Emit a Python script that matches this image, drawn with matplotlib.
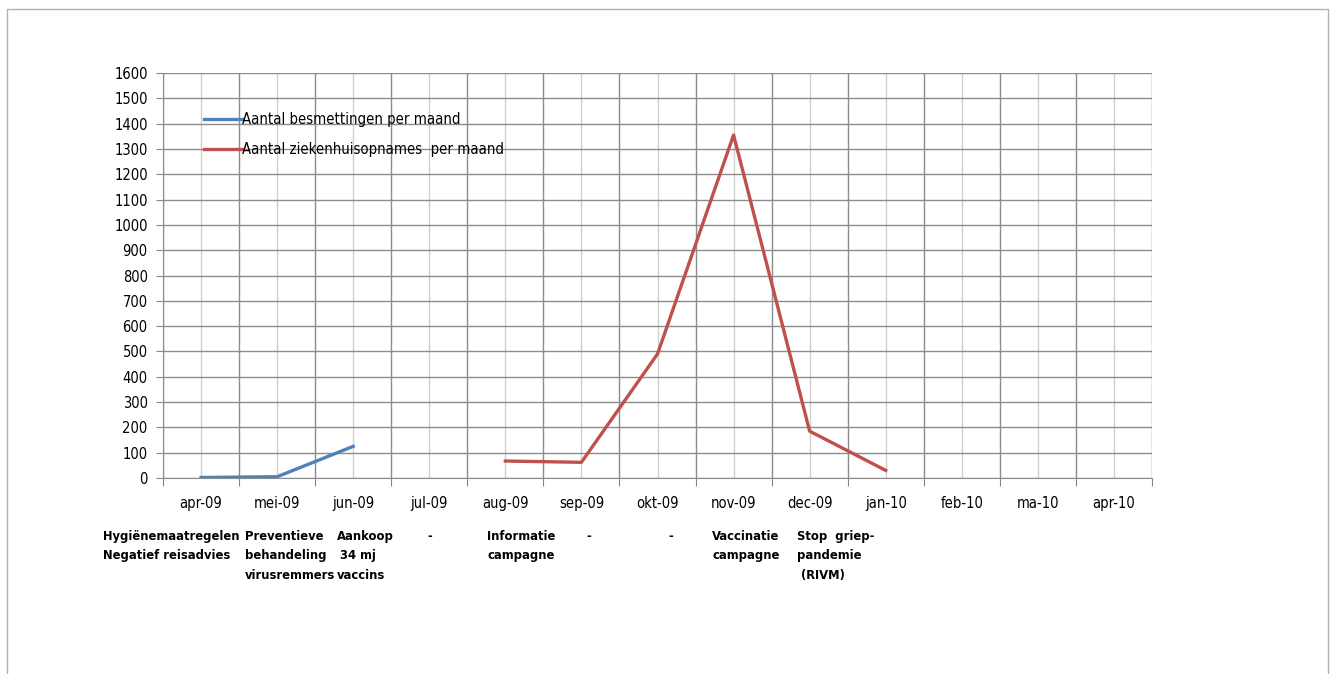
import numpy as np
import matplotlib.pyplot as plt
from matplotlib.patches import Rectangle

plt.rcParams['font.family'] = ['DejaVu Sans']
plt.rcParams['font.stretch'] = 'condensed'

months = ['apr-09', 'mei-09', 'jun-09', 'jul-09', 'aug-09', 'sep-09', 'okt-09',
          'nov-09', 'dec-09', 'jan-10', 'feb-10', 'ma-10', 'apr-10']
besmettingen = [2, 5, 125, np.nan, np.nan, np.nan, np.nan,
                np.nan, np.nan, np.nan, np.nan, np.nan, np.nan]
opnames = [np.nan, np.nan, np.nan, np.nan, 67, 62, 490,
           1355, 185, 30, np.nan, np.nan, np.nan]
maatregelen = ['Hygiënemaatregelen\nNegatief reisadvies',
               'Preventieve\nbehandeling\nvirusremmers',
               'Aankoop\n 34 mj\nvaccins',
               '-',
               'Informatie\ncampagne',
               '-',
               '-',
               'Vaccinatie\ncampagne',
               'Stop  griep-\npandemie\n (RIVM)']
maatregel_x = [-1.29, 0.58, 1.78, 2.98, 3.76, 5.06, 6.14, 6.72, 7.83]

fig = plt.figure(figsize=(13.33, 6.74), dpi=100)
fig.patches.append(Rectangle((7 / 1333, -0.05), 1321 / 1333, 1.05 - 9 / 674,
                             transform=fig.transFigure, fill=False,
                             edgecolor='#b0b0b0', linewidth=1))
ax = fig.add_axes([163 / 1333, 196 / 674, 989 / 1333, 405 / 674])

x = np.arange(len(months))
ax.plot(x, besmettingen, color='#4f81bd', linewidth=2.4,
        label='Aantal besmettingen per maand')
ax.plot(x, opnames, color='#c0504d', linewidth=2.4,
        label='Aantal ziekenhuisopnames  per maand')

ax.set_xlim(-0.5, len(months) - 0.5)
ax.set_ylim(0, 1600)
ax.set_yticks(range(0, 1601, 100))
ax.set_xticks(np.arange(-0.5, len(months), 1.0))
ax.set_xticklabels([])
ax.set_xticks(x, minor=True)
ax.set_xticklabels(months, minor=True, fontsize=10.5)
ax.tick_params(axis='x', which='minor', length=0, pad=13)
ax.tick_params(axis='x', which='major', length=6, color='#888888', direction='out')
ax.tick_params(axis='y', length=5, color='#888888', labelsize=10.5, pad=6)

ax.grid(axis='y', color='#8c8c8c', linewidth=1)
ax.grid(axis='x', which='major', color='#8c8c8c', linewidth=1)
ax.grid(axis='x', which='minor', color='#d0d0d0', linewidth=1)
ax.set_axisbelow(True)
for side in ['top', 'right']:
    ax.spines[side].set_visible(False)
for side in ['left', 'bottom']:
    ax.spines[side].set_color('#8c8c8c')

ax.legend(loc='upper left', bbox_to_anchor=(0.035, 0.918), frameon=False,
          fontsize=10.7, handlelength=2.6, handletextpad=0.0,
          labelspacing=1.0, borderaxespad=0)

for txt, xp in zip(maatregelen, maatregel_x):
    ax.text(xp, -0.128, txt, transform=ax.get_xaxis_transform(),
            ha='left', va='top', fontsize=9.3, fontweight='bold',
            linespacing=1.65, clip_on=False)

fig.savefig('out.png', dpi=100)
